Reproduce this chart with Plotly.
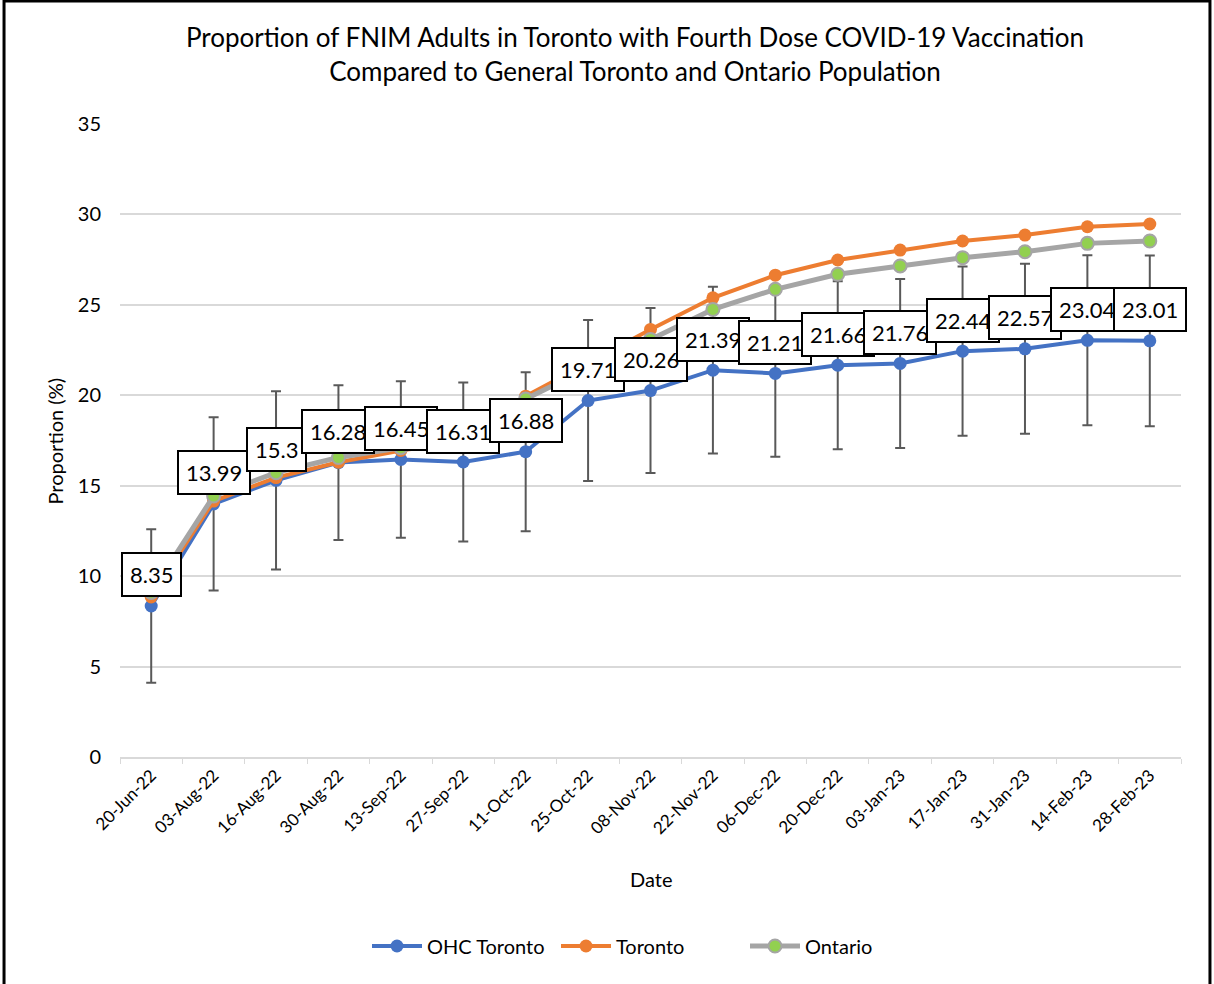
import plotly.graph_objects as go

dates = ["20-Jun-22", "03-Aug-22", "16-Aug-22", "30-Aug-22", "13-Sep-22", "27-Sep-22",
         "11-Oct-22", "25-Oct-22", "08-Nov-22", "22-Nov-22", "06-Dec-22", "20-Dec-22",
         "03-Jan-23", "17-Jan-23", "31-Jan-23", "14-Feb-23", "28-Feb-23"]
ohc_toronto = [8.35, 13.99, 15.3, 16.28, 16.45, 16.31, 16.88, 19.71, 20.26, 21.39,
               21.21, 21.66, 21.76, 22.44, 22.57, 23.04, 23.01]
ohc_err = [4.24, 4.79, 4.93, 4.28, 4.33, 4.4, 4.4, 4.45, 4.56, 4.61,
           4.61, 4.65, 4.67, 4.68, 4.7, 4.7, 4.72]
toronto = [8.85, 14.15, 15.45, 16.3, 16.95, 17.45, 19.95, 21.8, 23.64, 25.39,
           26.64, 27.48, 28.03, 28.53, 28.86, 29.32, 29.47]
ontario = [9.1, 14.43, 15.72, 16.56, 17.1, 17.5, 19.8, 21.5, 23.09, 24.75,
           25.86, 26.69, 27.15, 27.61, 27.94, 28.4, 28.53]

FONT = "Lato"
BLUE, ORANGE, GRAY, GREEN = "#4472C4", "#ED7D31", "#A5A5A5", "#92D050"

fig = go.Figure()
fig.add_trace(go.Scatter(
    x=dates, y=ohc_toronto, name="OHC Toronto", mode="lines+markers",
    line=dict(color=BLUE, width=4), marker=dict(color=BLUE, size=13),
    error_y=dict(type="data", array=ohc_err, visible=True, color="#595959",
                 thickness=2, width=5)))
fig.add_trace(go.Scatter(
    x=dates, y=toronto, name="Toronto", mode="lines+markers",
    line=dict(color=ORANGE, width=4), marker=dict(color=ORANGE, size=13)))
fig.add_trace(go.Scatter(
    x=dates, y=ontario, name="Ontario", mode="lines+markers",
    line=dict(color=GRAY, width=5),
    marker=dict(color=GREEN, size=13, line=dict(color=GRAY, width=2))))

for d, v in zip(dates, ohc_toronto):
    fig.add_annotation(x=d, y=v, text=f"{v:g}", showarrow=False, yshift=31,
                       bgcolor="white", bordercolor="black", borderwidth=2,
                       borderpad=7, font=dict(family=FONT, size=22, color="black"))

fig.add_annotation(xref="paper", yref="paper", x=0.4854, y=1.1098,
                   text="Proportion of FNIM Adults in Toronto with Fourth Dose COVID-19 Vaccination<br>Compared to General Toronto and Ontario Population",
                   showarrow=False, font=dict(family=FONT, size=26, color="black"),
                   xanchor="center", yanchor="middle")
fig.add_annotation(xref="paper", yref="paper", x=0.5, y=-0.1927, text="Date",
                   showarrow=False, font=dict(family=FONT, size=20, color="black"),
                   xanchor="center", yanchor="middle")
fig.add_annotation(xref="paper", yref="paper", x=-0.0613, y=0.5, text="Proportion (%)",
                   textangle=-90, showarrow=False,
                   font=dict(family=FONT, size=20, color="black"),
                   xanchor="center", yanchor="middle")

fig.add_shape(type="rect", xref="paper", yref="paper", x0=-0.1093, x1=1.0273,
              y0=-0.37, y1=1.1943, line=dict(color="black", width=3))

fig.update_layout(
    width=1214, height=984,
    margin=dict(l=120, r=33, t=124, b=227),
    paper_bgcolor="white", plot_bgcolor="white",
    font=dict(family=FONT, color="black"),
    showlegend=True,
    legend=dict(orientation="h", x=0.5, xanchor="center", y=-0.2986, yanchor="middle",
                entrywidth=124, itemwidth=50,
                font=dict(family=FONT, size=20, color="black")),
    xaxis=dict(type="category", range=[-0.5, 16.5], tickangle=-45,
               tickson="boundaries", ticks="outside", ticklen=5, tickcolor="#D9D9D9",
               showline=True, linecolor="#D9D9D9", linewidth=1.5, showgrid=False,
               tickfont=dict(family=FONT, size=17, color="black")),
    yaxis=dict(range=[0, 35], dtick=5, showgrid=True, gridcolor="#D9D9D9", gridwidth=1.5,
               zeroline=False, showline=False, ticks="", ticklabelstandoff=18,
               tickfont=dict(family=FONT, size=20, color="black")),
)

fig.write_html("out.html", config={"displayModeBar": False},
               post_script="document.body.style.margin='0';")
